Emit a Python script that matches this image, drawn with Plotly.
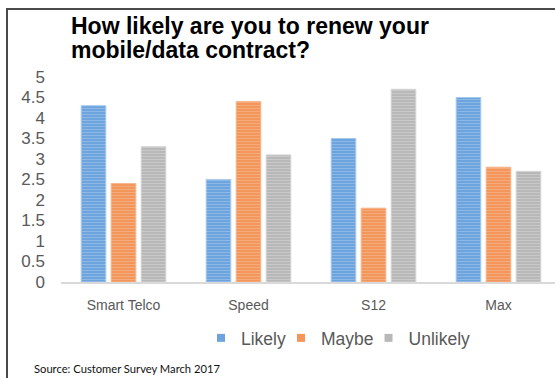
import plotly.graph_objects as go

categories = ["Smart Telco", "Speed", "S12", "Max"]
likely = [4.3, 2.5, 3.5, 4.5]
maybe = [2.4, 4.4, 1.8, 2.8]
unlikely = [3.3, 3.1, 4.7, 2.7]
series_names = ["Likely", "Maybe", "Unlikely"]
y_ticks = [0, 0.5, 1, 1.5, 2, 2.5, 3, 3.5, 4, 4.5, 5]

W, H = 555, 378
ML, MR, MT, MB = 61, 0, 77, 96
PW, PH = W - ML - MR, H - MT - MB

def px_x(x):
    return (x - ML) / PW

def px_y(y):
    return (H - MB - y) / PH

colors = ["#6EA4DE", "#F2965C", "#B8B8B8"]
stripe = ["#A9CBF0", "#F9C09A", "#DADADA"]
edge = ["#A8C8EC", "#F6B58A", "#D4D4D4"]

fig = go.Figure()
for name, vals, c, s, e in zip(series_names, [likely, maybe, unlikely], colors, stripe, edge):
    fig.add_trace(go.Bar(
        x=categories, y=vals, name=name, showlegend=False,
        marker=dict(color=c, line=dict(color=e, width=1),
                    pattern=dict(shape="-", fgcolor=s, bgcolor=c, size=3, solidity=0.35)),
    ))
for name, c in zip(series_names, colors):
    fig.add_trace(go.Scatter(
        x=[None], y=[None], mode="markers", name=name,
        marker=dict(symbol="square", size=8, color=c),
    ))

fig.update_layout(
    width=W, height=H,
    margin=dict(l=ML, r=MR, t=MT, b=MB, autoexpand=False),
    paper_bgcolor="white", plot_bgcolor="white",
    barmode="group", bargap=0.28, bargroupgap=0.18,
    font=dict(family="Liberation Sans, Arial, sans-serif", color="#595959"),
    xaxis=dict(range=[-0.5, 3.452], showline=True, linecolor="#D9D9D9", linewidth=1.5,
               showgrid=False, ticks="", tickfont=dict(size=14, color="#595959"),
               ticklabelstandoff=9, zeroline=False),
    yaxis=dict(range=[0, 5], tickvals=y_ticks, ticktext=[f"{v:g}" for v in y_ticks],
               showline=False, showgrid=False, zeroline=False, ticks="",
               tickfont=dict(size=17, color="#595959"), ticklabelstandoff=15),
    showlegend=True,
    legend=dict(orientation="h", x=px_x(211), xanchor="left", y=px_y(338), yanchor="middle",
                font=dict(size=17.5, color="#595959"), bgcolor="rgba(0,0,0,0)",
                itemwidth=30, indentation=-10, traceorder="normal"),
)

title_font = dict(family="Liberation Sans, Arial, sans-serif", size=23, color="#000000")
fig.add_annotation(text="<b>How likely are you to renew your</b>", xref="paper", yref="paper",
                   x=px_x(69), y=px_y(26), xanchor="left", yanchor="middle",
                   showarrow=False, font=title_font)
fig.add_annotation(text="<b>mobile/data contract?</b>", xref="paper", yref="paper",
                   x=px_x(69), y=px_y(50), xanchor="left", yanchor="middle",
                   showarrow=False, font=title_font)
fig.add_annotation(text="Source: Customer Survey March 2017", xref="paper", yref="paper",
                   x=px_x(32), y=px_y(368), xanchor="left", yanchor="middle",
                   showarrow=False, font=dict(family="Lato, sans-serif", size=11.2, color="#111111"))

frame = "#4A4A4A"
fig.add_shape(type="line", xref="paper", yref="paper", x0=px_x(6), x1=px_x(W + 2),
              y0=px_y(9), y1=px_y(9), line=dict(color=frame, width=2))
fig.add_shape(type="line", xref="paper", yref="paper", x0=px_x(7), x1=px_x(7),
              y0=px_y(9), y1=px_y(H + 2), line=dict(color=frame, width=2))

fig.write_html("out.html")
